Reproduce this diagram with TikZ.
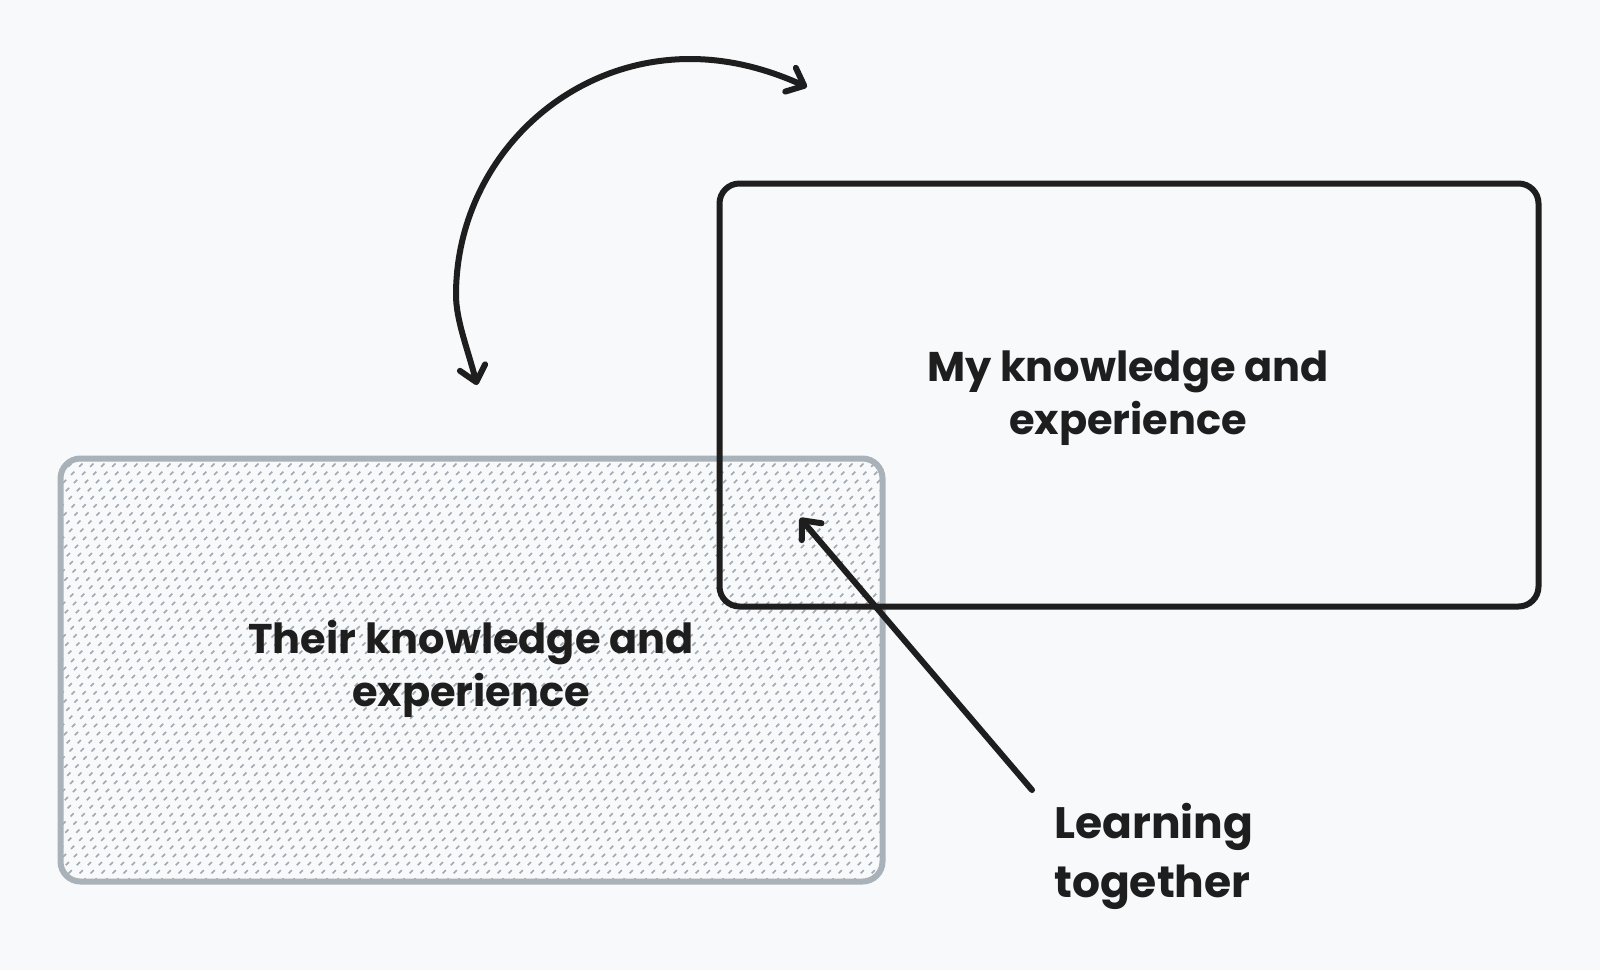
\documentclass[tikz,border=0pt]{standalone}
\usepackage{fontspec}
\setmainfont{Poppins}
\usetikzlibrary{arrows.meta}
\definecolor{bg}{HTML}{F8F9FB}
\definecolor{ink}{HTML}{1E1E1E}
\definecolor{greyline}{HTML}{A9B1B9}
\definecolor{hatchc}{HTML}{A0A8B1}
\begin{document}
\begin{tikzpicture}[x=1pt,y=-1pt,
  boxstyle/.style={rectangle, rounded corners=20pt, line width=6pt, inner sep=0pt},
  hatchline/.style={hatchc, line width=1.6pt, dash pattern=on 4.5pt off 7pt},
  label/.style={font=\fontsize{41.5}{53}\selectfont\bfseries, text=ink, align=center, inner sep=0pt},
  arr/.style={draw=ink, line width=6pt, line cap=round, line join=round, -{Straight Barb[length=15pt,width=26pt,line cap=round,line join=round]}},
  arrboth/.style={draw=ink, line width=6pt, line cap=round, line join=round,
    {Straight Barb[length=15pt,width=26pt,line cap=round,line join=round]}-{Straight Barb[length=15pt,width=26pt,line cap=round,line join=round]}}
]
\fill[bg] (0,0) rectangle (1600,970);
\useasboundingbox (0,0) rectangle (1600,970);

% their box (hatched)
\node[boxstyle, draw=greyline, minimum width=822pt, minimum height=423pt,
  path picture={
    \foreach \k in {0,...,120}{
      \draw[hatchline] ([xshift=\k*11pt-440pt]path picture bounding box.south west) -- ++(450pt,450pt);
    }
  }] (their) at (471.5,670) {};

% my box
\node[boxstyle, draw=ink, minimum width=819pt, minimum height=423pt] (mine) at (1129,395) {};

% labels
\node[label] (mytext) at (1128,398) {My knowledge and\\experience};
\node[label] (theirtext) at (471,669) {Their knowledge and\\experience};
\node[label, font=\fontsize{44}{59}\selectfont\bfseries, align=left, anchor=west] (learn) at (1054,856) {Learning\\together};

% arrows
\coordinate (ltail) at (1032,790);
\coordinate (lhead) at (800,518);
\draw[arr] (ltail) -- (lhead);

\coordinate (arcA) at (477,385);
\coordinate (arcB) at (807,87);
\draw[arrboth] (arcA) .. controls (468,350) and (456,320) .. (456,295)
  .. controls (456,165) and (561,59) .. (690,59)
  .. controls (740,59) and (780,75) .. (arcB);
\end{tikzpicture}
\end{document}
